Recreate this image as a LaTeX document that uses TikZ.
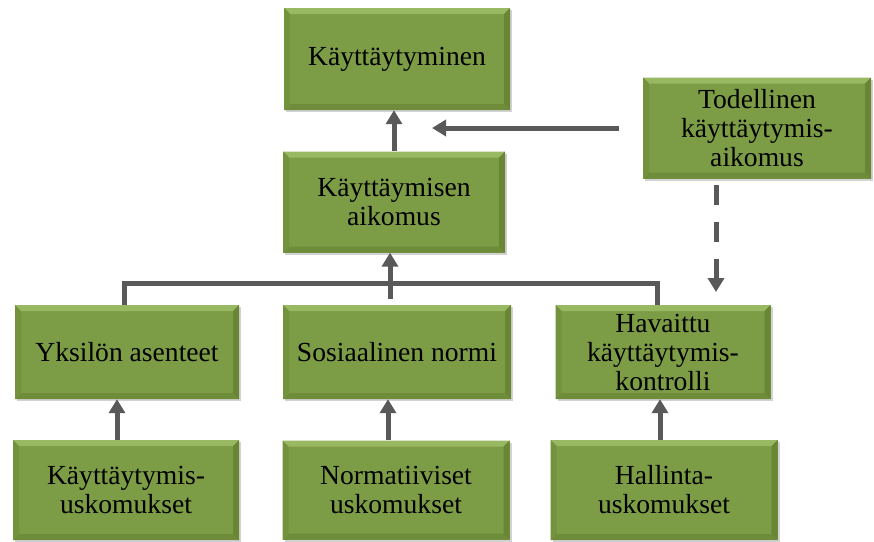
\documentclass[tikz,border=0pt]{standalone}
\usepackage{fontspec}
\setmainfont{Liberation Serif}
\usetikzlibrary{arrows.meta,shadows}

\definecolor{boxgreen}{RGB}{124,156,70}
\definecolor{bevtop}{RGB}{152,184,98}
\definecolor{bevleft}{RGB}{114,146,60}
\definecolor{bevright}{RGB}{104,134,52}
\definecolor{bevbot}{RGB}{110,140,58}
\definecolor{arrgray}{RGB}{89,89,89}

\begin{document}
\begin{tikzpicture}[x=1pt,y=-1pt,
  box/.style={rectangle, fill=boxgreen, inner sep=0pt, align=center,
    font=\rmfamily\fontsize{27.6}{29}\selectfont,
    drop shadow={shadow xshift=2pt, shadow yshift=-2pt, opacity=0.25, fill=black!70},
    path picture={
      \coordinate (pnw) at (path picture bounding box.north west);
      \coordinate (pne) at (path picture bounding box.north east);
      \coordinate (psw) at (path picture bounding box.south west);
      \coordinate (pse) at (path picture bounding box.south east);
      \fill[bevtop] (pnw) -- (pne) -- ([shift={(-6pt,-6pt)}]pne) -- ([shift={(6pt,-6pt)}]pnw) -- cycle;
      \fill[bevbot] (psw) -- (pse) -- ([shift={(-6pt,6pt)}]pse) -- ([shift={(6pt,6pt)}]psw) -- cycle;
      \fill[bevleft] (pnw) -- ([shift={(6pt,-6pt)}]pnw) -- ([shift={(6pt,6pt)}]psw) -- (psw) -- cycle;
      \fill[bevright] (pne) -- ([shift={(-6pt,-6pt)}]pne) -- ([shift={(-6pt,6pt)}]pse) -- (pse) -- cycle;
    }},
  conn/.style={line width=5pt, draw=arrgray},
  arr/.style={conn, -{Triangle[width=16pt,length=14pt]}}]

\useasboundingbox (0,0) rectangle (874,541);

% top row
\node[box, minimum width=226pt, minimum height=102pt] (beh) at (397,59) {Käyttäytyminen};
\node[box, minimum width=222pt, minimum height=101pt] (intent) at (394,202) {Käyttäymisen\\aikomus};
\node[box, minimum width=228pt, minimum height=101pt] (actual) at (757,128) {Todellinen\\käyttäytymis-\\aikomus};

% middle row
\node[box, minimum width=224pt, minimum height=94pt] (att) at (127,352) {Yksilön asenteet};
\node[box, minimum width=228pt, minimum height=94pt] (norm) at (397,352) {Sosiaalinen normi};
\node[box, minimum width=215pt, minimum height=94pt] (pbc) at (663,352) {Havaittu\\käyttäytymis-\\kontrolli};

% bottom row
\node[box, minimum width=226pt, minimum height=100pt] (bb) at (126,490) {Käyttäytymis-\\uskomukset};
\node[box, minimum width=227pt, minimum height=99pt] (nb) at (396,490) {Normatiiviset\\uskomukset};
\node[box, minimum width=227pt, minimum height=100pt] (cb) at (664,490) {Hallinta-\\uskomukset};

\coordinate (junc) at (390,283);
\coordinate (hstart) at ([xshift=-24pt]actual.west);
\coordinate (hend) at (432,128);
\coordinate (dstart) at (716,185);
\coordinate (dend) at (716,292);

\draw[arr] (intent.north) -- (intent.north |- beh.south);
\draw[arr] (hstart) -- (hend);
\draw[arr, dash pattern=on 20pt off 17pt] (dstart) -- (dend);

\draw[conn] ([xshift=-3pt]att.north) |- (junc) -| ([xshift=-6pt]pbc.north);
\draw[arr] ([yshift=6pt]norm.north -| junc) -- (intent.south -| junc);

\foreach \from/\to/\dx in {bb/att/-9, nb/norm/-8, cb/pbc/-4}
  {\draw[arr] ([xshift=\dx pt]\from.north) -- ([xshift=\dx pt]\from.north |- \to.south);}

\end{tikzpicture}
\end{document}
